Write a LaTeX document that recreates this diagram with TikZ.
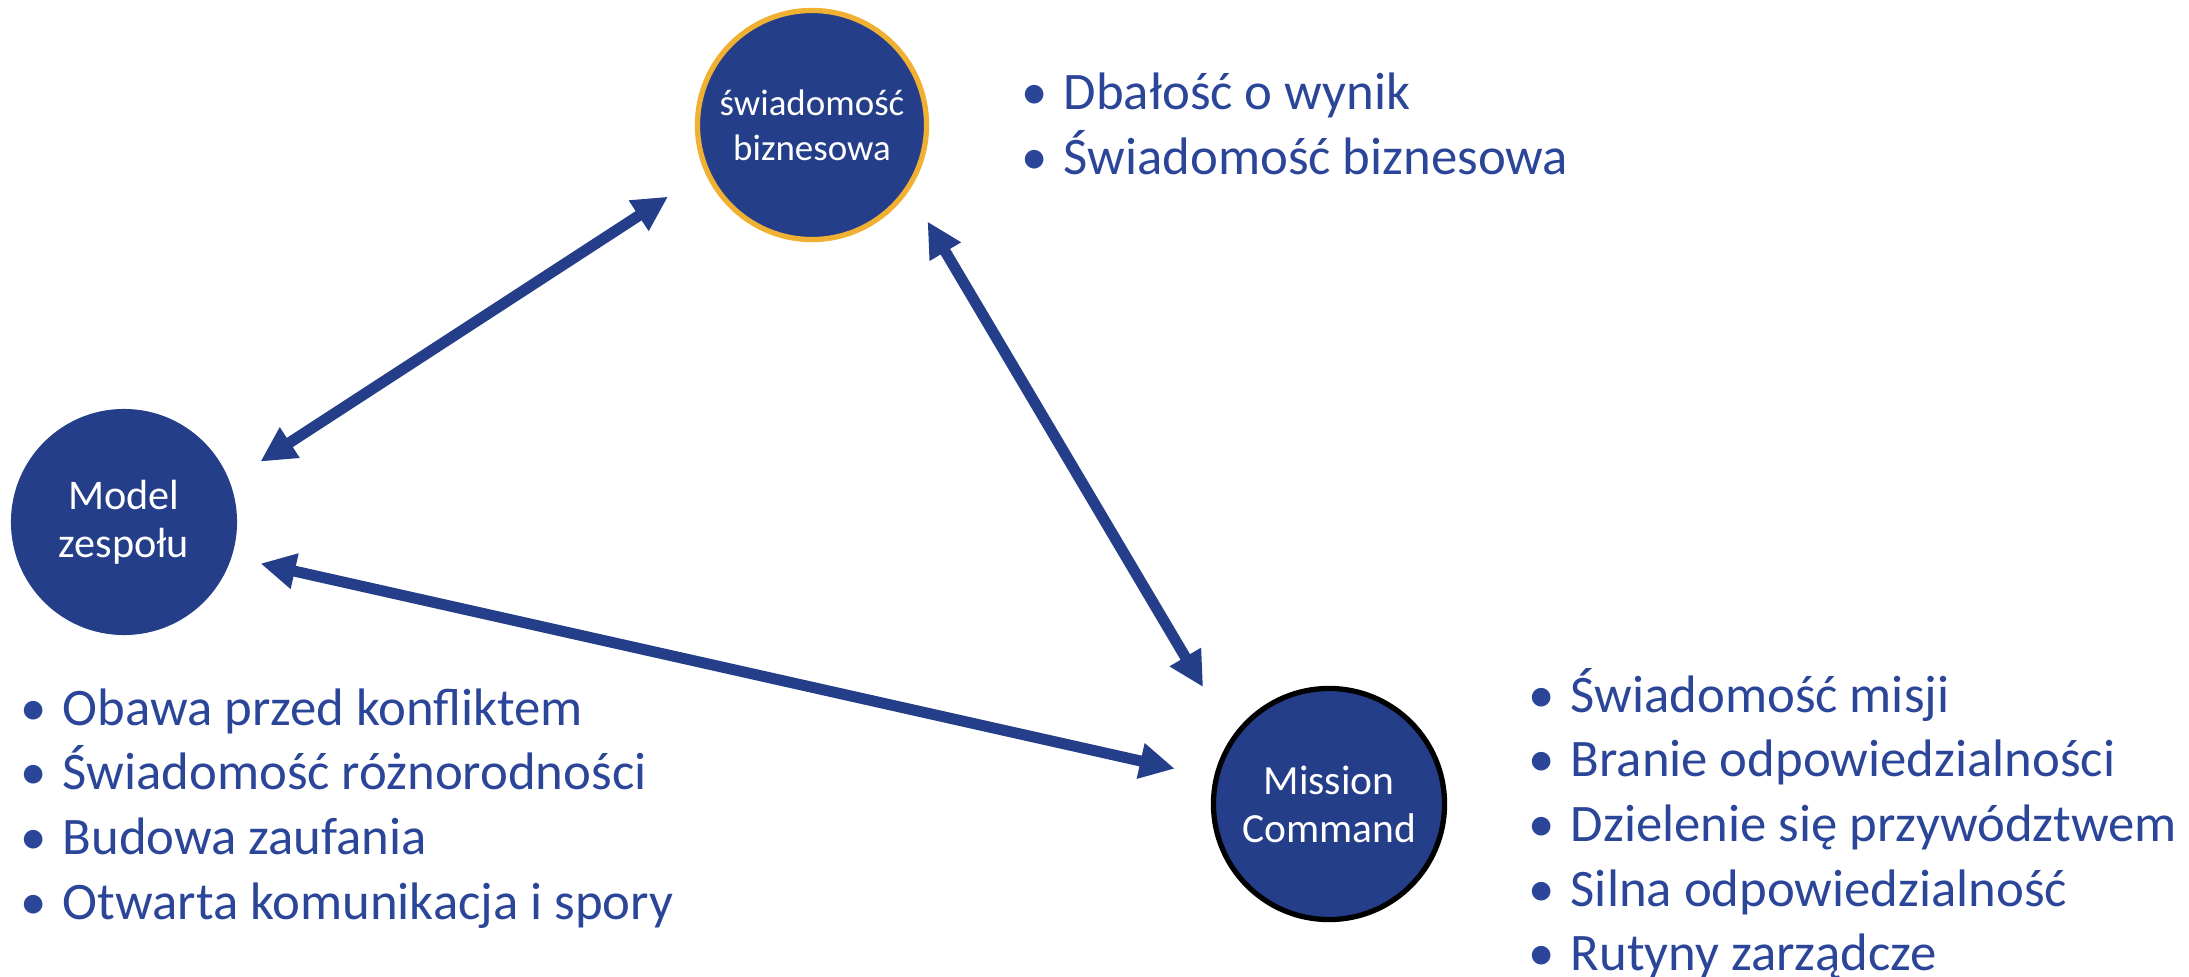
\documentclass[tikz,border=0pt]{standalone}
\usepackage{fontspec}
\setmainfont{Carlito}
\usetikzlibrary{arrows.meta}
\definecolor{granat}{RGB}{36,62,137}
\definecolor{napis}{RGB}{43,70,153}
\definecolor{zloty}{RGB}{240,176,50}
\newcommand{\pkt}{\makebox[0pt][c]{•}\hspace{0.29cm}}
\begin{document}
\begin{tikzpicture}[x=0.01cm,y=-0.01cm,line join=round,
	kolo/.style={circle,fill=granat,text=white,inner sep=0pt,align=center},
	lista/.style={anchor=base west,inner sep=0pt,text=napis,font=\fontsize{15}{18.4}\selectfont},
	strzalka/.style={{Triangle[length=0.35cm,width=0.34cm]}-{Triangle[length=0.35cm,width=0.34cm]},draw=granat,line width=0.11cm}]
	\useasboundingbox (0,0) rectangle (2189,976);
	% kola
	\node[kolo,draw=zloty,line width=1.5pt,minimum size=2.29cm,font=\fontsize{10.5}{12.8}\selectfont] (biznes) at (812,125) {świadomość\\biznesowa};
	\node[kolo,minimum size=2.26cm,font=\fontsize{12}{13.7}\selectfont] (model) at (124,522) {Model\\zespołu};
	\node[kolo,draw=black,line width=1.5pt,minimum size=2.31cm,font=\fontsize{11.8}{13.7}\selectfont] (misja) at (1329,804) {Mission\\Command};
	% listy
	\node[lista] (lista-biznes) at (1034,110) {\begin{tabular}[t]{@{}l@{}}\pkt Dbałość o wynik\\ \pkt Świadomość biznesowa\end{tabular}};
	\node[lista] (lista-model) at (33,725) {\begin{tabular}[t]{@{}l@{}}\pkt Obawa przed konfliktem\\ \pkt Świadomość różnorodności\\ \pkt Budowa zaufania\\ \pkt Otwarta komunikacja i spory\end{tabular}};
	\node[lista] (lista-misja) at (1541,712) {\begin{tabular}[t]{@{}l@{}}\pkt Świadomość misji\\ \pkt Branie odpowiedzialności\\ \pkt Dzielenie się przywództwem\\ \pkt Silna odpowiedzialność\\ \pkt Rutyny zarządcze\end{tabular}};
	% strzalki
	\draw[strzalka,shorten <=0.36cm,shorten >=0.44cm] (model.21) -- (biznes.204);
	\draw[strzalka,shorten <=0.36cm,shorten >=0.57cm] (biznes.-34) -- (misja.145);
	\draw[strzalka,shorten <=0.29cm,shorten >=0.40cm] (model.-18) -- (misja.167);
\end{tikzpicture}
\end{document}
